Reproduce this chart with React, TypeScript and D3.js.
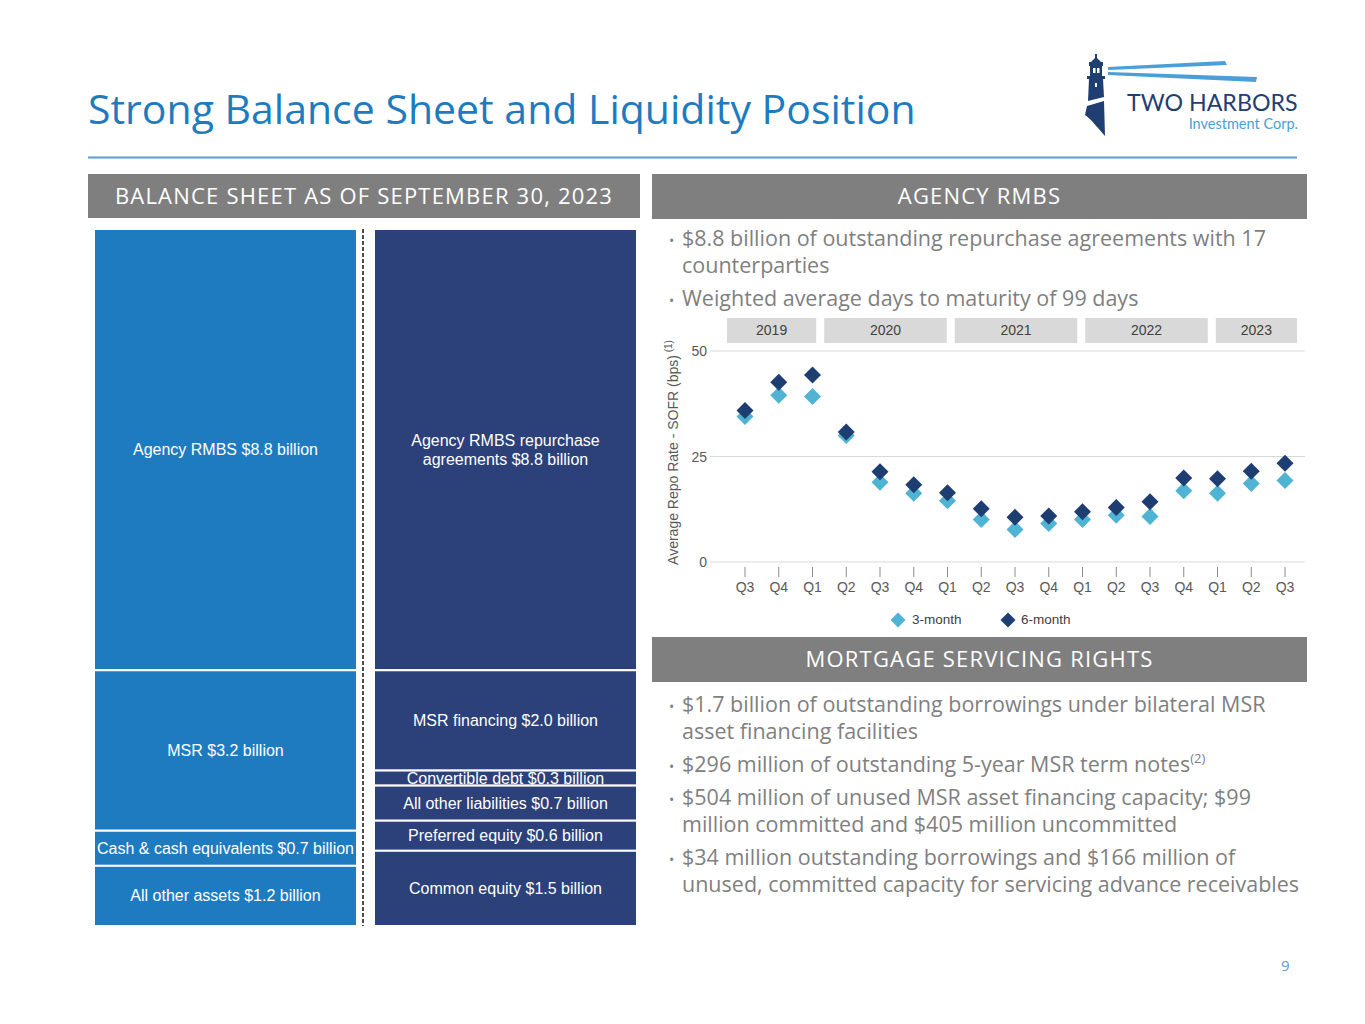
import React from "react";
import * as d3 from "d3";

// ---- data ----
const assetLabels = [
  ["Agency RMBS $8.8 billion"],
  ["MSR $3.2 billion"],
  ["Cash & cash equivalents $0.7 billion"],
  ["All other assets $1.2 billion"],
];
const assetValues = [8.8, 3.2, 0.7, 1.2];

const liabLabels = [
  ["Agency RMBS repurchase", "agreements $8.8 billion"],
  ["MSR financing $2.0 billion"],
  ["Convertible debt $0.3 billion"],
  ["All other liabilities $0.7 billion"],
  ["Preferred equity $0.6 billion"],
  ["Common equity $1.5 billion"],
];
const liabValues = [8.8, 2.0, 0.3, 0.7, 0.6, 1.5];

const quarters = ["Q3", "Q4", "Q1", "Q2", "Q3", "Q4", "Q1", "Q2", "Q3", "Q4", "Q1", "Q2", "Q3", "Q4", "Q1", "Q2", "Q3"];
const years = ["2019", "2020", "2021", "2022", "2023"];
const threeMonth = [34.5, 39.5, 39.2, 30.0, 18.9, 16.3, 14.5, 10.1, 7.7, 9.1, 10.1, 11.1, 10.8, 16.9, 16.3, 18.6, 19.3];
const sixMonth = [35.9, 42.6, 44.3, 30.8, 21.4, 18.3, 16.4, 12.6, 10.6, 10.9, 11.9, 12.9, 14.3, 19.9, 19.7, 21.5, 23.4];
const yTicks = [0, 25, 50];

const agencyBullets = [
  ["$8.8 billion of outstanding repurchase agreements with 17", "counterparties"],
  ["Weighted average days to maturity of 99 days"],
];
const msrBullets = [
  ["$1.7 billion of outstanding borrowings under bilateral MSR", "asset financing facilities"],
  ["$296 million of outstanding 5-year MSR term notes"],
  ["$504 million of unused MSR asset financing capacity; $99", "million committed and $405 million uncommitted"],
  ["$34 million outstanding borrowings and $166 million of", "unused, committed capacity for servicing advance receivables"],
];

const BLUE = "#1f7bbf";
const NAVY = "#2c4179";
const LIGHT = "#4fb3d3";
const DARK = "#1e3e72";
const GRAY_TXT = "#7f7f7f";
const AX_TXT = "#595959";
const SANS = "Liberation Sans, Arial, sans-serif";
const SLIDE = "Open Sans, Roboto, sans-serif";

function stack(values: number[]) {
  let acc = 0;
  return values.map((v) => {
    const s = acc;
    acc += v;
    return [s, acc];
  });
}

function Column({ x, w, values, labels, fill }: any) {
  const total = d3.sum(values);
  const y = d3.scaleLinear().domain([0, total]).range([229, 926]);
  return (
    <g>
      {stack(values).map(([a, b], i) => {
        const y0 = y(a);
        const y1 = y(b);
        const cy = (y0 + y1) / 2;
        const lines = labels[i];
        return (
          <g key={i}>
            <rect x={x} y={y0} width={w} height={y1 - y0} fill={fill} stroke="#fff" strokeWidth={2} />
            <text x={x + w / 2} y={cy} textAnchor="middle" fill="#fff" fontFamily={SANS} fontSize={16}>
              {lines.map((l: string, j: number) => (
                <tspan key={j} x={x + w / 2} dy={j === 0 ? (-(lines.length - 1) * 19) / 2 + 5.5 : 19}>
                  {l}
                </tspan>
              ))}
            </text>
          </g>
        );
      })}
    </g>
  );
}

function Header({ x, y, w, h, text }: any) {
  return (
    <g>
      <rect x={x} y={y} width={w} height={h} fill="#7f7f7f" />
      <text
        x={x + w / 2}
        y={y + h / 2 + 7.5}
        textAnchor="middle"
        fill="#fff"
        fontFamily={SLIDE}
        fontSize={22}
        letterSpacing={1.2}
      >
        {text}
      </text>
    </g>
  );
}

function Bullets({ x, y0, items, supIndex }: any) {
  let y = y0;
  const out: any[] = [];
  items.forEach((lines: string[], i: number) => {
    out.push(
      <text key={"b" + i} x={x - 13} y={y} fill={GRAY_TXT} fontFamily={SLIDE} fontSize={14}>
        •
      </text>
    );
    lines.forEach((l, j) => {
      out.push(
        <text key={i + "-" + j} x={x} y={y} fill={GRAY_TXT} fontFamily={SLIDE} fontSize={21.5}>
          {l}
          {supIndex === i && j === lines.length - 1 ? (
            <tspan fontSize={13} dy={-9}>
              (2)
            </tspan>
          ) : null}
        </text>
      );
      y += j === lines.length - 1 ? 33 : 27;
    });
  });
  return <g>{out}</g>;
}

function diamond(cx: number, cy: number, r: number) {
  return `M${cx},${cy - r}L${cx + r},${cy}L${cx},${cy + r}L${cx - r},${cy}Z`;
}

function RepoChart() {
  const idx = quarters.map((_, i) => i);
  const x = d3.scaleLinear().domain([0, quarters.length - 1]).range([745, 1285]);
  const y = d3.scaleLinear().domain([0, 50]).range([562, 351]);
  const left = x(-0.5) - 18;
  const right = x(quarters.length - 0.5) + 3;

  // year header table (columns of unequal width)
  const bandWeights = [2.5, 3.5, 3.5, 3.5, 2.5];
  const cum = [0, ...d3.cumsum(bandWeights)];
  const bx = d3.scaleLinear().domain([0, cum[cum.length - 1]]).range([727, 1305]);

  return (
    <g>
      {years.map((yr, i) => {
        const x0 = bx(cum[i]) + (i === 0 ? 0 : 4);
        const x1 = bx(cum[i + 1]) - (i === years.length - 1 ? 8 : 4);
        return (
          <g key={yr}>
            <rect x={x0} y={318} width={x1 - x0} height={25} fill="#d9d9d9" />
            <text x={(x0 + x1) / 2} y={335} textAnchor="middle" fontFamily={SANS} fontSize={14} fill="#404040">
              {yr}
            </text>
          </g>
        );
      })}
      {yTicks.map((t) => (
        <g key={t}>
          <line x1={left} x2={right} y1={y(t)} y2={y(t)} stroke="#d9d9d9" strokeWidth={1.2} />
          <text x={707} y={y(t) + 5} textAnchor="end" fontFamily={SANS} fontSize={14} fill={AX_TXT}>
            {t}
          </text>
        </g>
      ))}
      {idx.map((i) => (
        <g key={i}>
          <line x1={x(i)} x2={x(i)} y1={567} y2={577} stroke="#8c8c8c" strokeWidth={1} />
          <text x={x(i)} y={592} textAnchor="middle" fontFamily={SANS} fontSize={14} fill={AX_TXT}>
            {quarters[i]}
          </text>
        </g>
      ))}
      <text
        transform={`translate(678,${y(25) - 4}) rotate(-90)`}
        textAnchor="middle"
        fontFamily={SANS}
        fontSize={14}
        fill={AX_TXT}
      >
        Average Repo Rate - SOFR (bps)
        <tspan fontSize={10} dy={-6}>
          {" "}(1)
        </tspan>
      </text>
      {threeMonth.map((v, i) => (
        <path key={"l" + i} d={diamond(x(i), y(v), 8.5)} fill={LIGHT} />
      ))}
      {sixMonth.map((v, i) => (
        <path key={"d" + i} d={diamond(x(i), y(v), 8.5)} fill={DARK} />
      ))}
      <path d={diamond(898, 620, 7.5)} fill={LIGHT} />
      <text x={912} y={624} fontFamily={SANS} fontSize={13.5} fill="#404040">
        3-month
      </text>
      <path d={diamond(1008, 620, 7.5)} fill={DARK} />
      <text x={1021} y={624} fontFamily={SANS} fontSize={13.5} fill="#404040">
        6-month
      </text>
    </g>
  );
}

function Logo() {
  return (
    <g>
      {/* beams */}
      <path d="M1108,67 L1225,61 L1227,65 L1108,70 Z" fill="#4a9fd8" />
      <path d="M1108,72 L1257,77 L1256,82 L1108,75 Z" fill="#4a9fd8" />
      {/* lighthouse */}
      <path d="M1095,54 L1097,54 L1097,58 L1101,62 L1091,62 L1095,58 Z" fill="#1f3f73" />
      <rect x={1089} y={62} width={14} height={4} fill="#1f3f73" />
      <rect x={1090} y={66} width={12} height={10} fill="#1f3f73" />
      <rect x={1093} y={68} width={2.5} height={5} fill="#fff" />
      <rect x={1097} y={68} width={2.5} height={5} fill="#fff" />
      <rect x={1087} y={76} width={18} height={3} fill="#1f3f73" />
      <path d="M1089,79 L1103,79 L1104,97 L1088,101 Z" fill="#1f3f73" />
      <path d="M1087,106 L1104,101 L1105,136 C1098,128 1090,118 1085,115 Z" fill="#1f3f73" />
      <rect x={1095} y={83} width={2} height={4} fill="#fff" />
      <text x={1127} y={111} fontFamily="Lato, Open Sans, sans-serif" fontSize={23.2} fill="#1f3f73">
        TWO HARBORS
      </text>
      <text x={1298} y={129} textAnchor="end" fontFamily="Lato, Open Sans, sans-serif" fontSize={14.5} fill="#4a9fd8">
        Investment Corp.
      </text>
    </g>
  );
}

export default function App() {
  return (
    <div style={{ position: "absolute", left: 0, top: 0 }}>
      <svg width={1365} height={1024} style={{ display: "block", background: "#fff" }}>
        <text x={88} y={124} fontFamily={SLIDE} fontSize={41} fill={BLUE}>
          Strong Balance Sheet and Liquidity Position
        </text>
        <line x1={88} x2={1297} y1={157.5} y2={157.5} stroke="#5b9bd5" strokeWidth={2} />
        <Logo />

        <Header x={88} y={174} w={552} h={44} text="BALANCE SHEET AS OF SEPTEMBER 30, 2023" />
        <Header x={652} y={174} w={655} h={45} text="AGENCY RMBS" />
        <Header x={652} y={637} w={655} h={45} text="MORTGAGE SERVICING RIGHTS" />

        <Column x={94} w={263} values={assetValues} labels={assetLabels} fill={BLUE} />
        <Column x={374} w={263} values={liabValues} labels={liabLabels} fill={NAVY} />
        <line x1={363} x2={363} y1={229} y2={926} stroke="#4d4d4d" strokeWidth={2} strokeDasharray="4,2" />

        <Bullets x={682} y0={246} items={agencyBullets} />
        <RepoChart />
        <Bullets x={682} y0={712} items={msrBullets} supIndex={1} />

        <text x={1281} y={971} fontFamily={SLIDE} fontSize={15} fill="#5b9bd5">
          9
        </text>
      </svg>
    </div>
  );
}
